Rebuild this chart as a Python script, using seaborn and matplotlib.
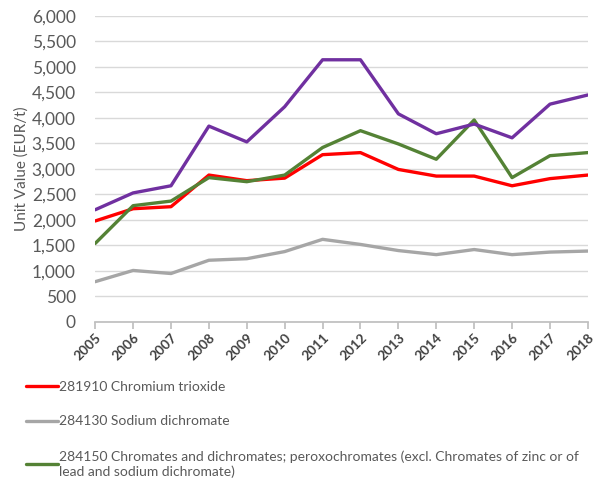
import pandas as pd
import matplotlib.pyplot as plt
import seaborn as sns

years = list(range(2005, 2019))
chromium_trioxide = [1980, 2220, 2260, 2880, 2770, 2820, 3280, 3320, 2990, 2860, 2860, 2670, 2810, 2880]
sodium_dichromate = [790, 1010, 950, 1210, 1240, 1380, 1620, 1520, 1400, 1320, 1420, 1320, 1370, 1390]
chromates = [1540, 2280, 2370, 2830, 2750, 2880, 3420, 3750, 3490, 3190, 3960, 2830, 3260, 3320]
purple_series = [2200, 2530, 2670, 3840, 3530, 4220, 5140, 5140, 4080, 3690, 3880, 3610, 4270, 4450]

labels = [
    "281910 Chromium trioxide",
    "284130 Sodium dichromate",
    "284150 Chromates and dichromates; peroxochromates (excl. Chromates of zinc or of\nlead and sodium dichromate)",
    "other",
]
colors = ["#ff0000", "#a6a6a6", "#548235", "#7030a0"]

df = pd.concat([
    pd.DataFrame({"year": years, "value": vals, "series": lab})
    for vals, lab in zip([chromium_trioxide, sodium_dichromate, chromates, purple_series], labels)
])

sns.set_theme(style="white")
plt.rcParams["font.family"] = ["Lato", "DejaVu Sans"]

fig = plt.figure(figsize=(5.95, 4.82), dpi=100)
ax = fig.add_axes([0.16, 0.332, 0.828, 0.635])

sns.lineplot(data=df, x="year", y="value", hue="series", hue_order=labels,
             palette=colors, linewidth=2.4, ax=ax, legend=False)

ax.set_xlim(2005, 2018)
ax.set_ylim(0, 6000)
ax.set_yticks(range(0, 6001, 500))
ax.set_yticklabels([f"{v:,}" for v in range(0, 6001, 500)], fontsize=12.5, color="#595959")
ax.set_xticks(years)
ax.set_xticklabels([str(y) for y in years], rotation=45, ha="right", rotation_mode="anchor",
                   fontsize=9.8, fontweight="bold", color="#404040")
ax.grid(axis="y", color="#d9d9d9", linewidth=1)
ax.set_axisbelow(True)
for s in ["top", "right", "left"]:
    ax.spines[s].set_visible(False)
ax.spines["bottom"].set_color("#bfbfbf")
ax.tick_params(axis="x", direction="out", length=5, color="#bfbfbf", bottom=True, pad=2)
ax.tick_params(axis="y", length=0, pad=14)
ax.set_xlabel("")
ax.set_ylabel("Unit Value (EUR/t)", fontsize=11, color="#595959", labelpad=2)

handles = [plt.Line2D([0], [0], color=c, linewidth=2.4) for c in colors[:3]]
fig.legend(handles, labels[:3], loc="upper left", bbox_to_anchor=(0.035, 0.222),
           frameon=False, fontsize=10, labelcolor="#595959", handlelength=2.3,
           handletextpad=0.05, labelspacing=1.65, borderaxespad=0)

fig.savefig("out.png", dpi=100)
